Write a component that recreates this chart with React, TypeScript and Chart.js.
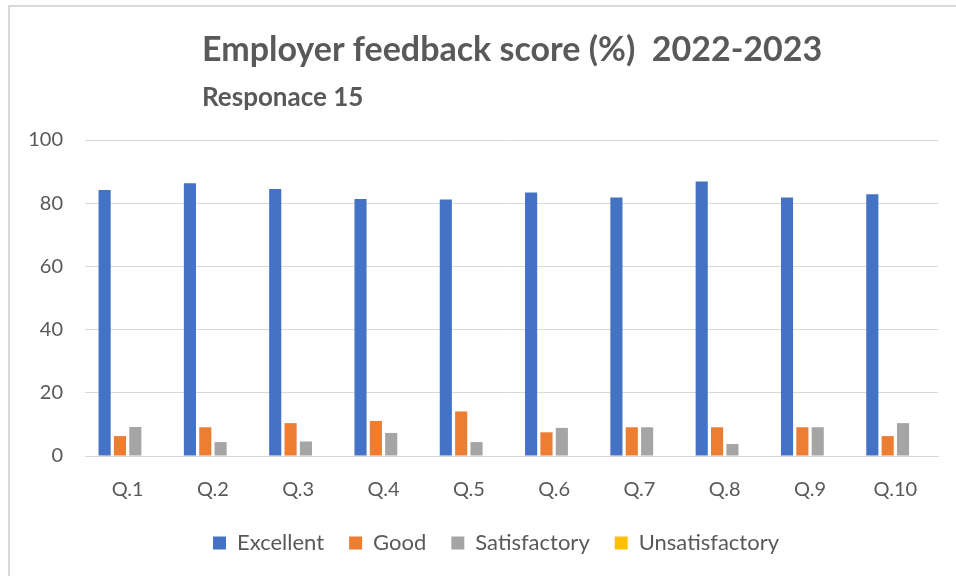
import React, { useEffect, useRef } from "react";
import { Chart, registerables } from "chart.js";

Chart.register(...registerables);

const categories = ["Q.1", "Q.2", "Q.3", "Q.4", "Q.5", "Q.6", "Q.7", "Q.8", "Q.9", "Q.10"];
const excellent = [84.2, 86.3, 84.5, 81.3, 81.2, 83.4, 81.8, 86.9, 81.8, 82.8];
const good = [6.3, 9.1, 10.4, 11.1, 14.1, 7.5, 9.1, 9.1, 9.1, 6.3];
const satisfactory = [9.2, 4.4, 4.6, 7.3, 4.4, 8.9, 9.1, 3.8, 9.1, 10.4];
const unsatisfactory = [0, 0, 0, 0, 0, 0, 0, 0, 0, 0];
const seriesNames = ["Excellent", "Good", "Satisfactory", "Unsatisfactory"];
const seriesColors = ["#4472C4", "#ED7D31", "#A5A5A5", "#FFC000"];
const titleText = "Employer feedback score (%)  2022-2023";
const subtitleText = "Responace 15";
const yTicks = [0, 20, 40, 60, 80, 100];

const FONT = "Lato, 'Noto Sans', sans-serif";
const TEXT = "#595959";

const decorPlugin = {
  id: "decor",
  afterLayout(chart: any) {
    if (chart.legend) {
      chart.legend.left += 22;
      chart.legend.right += 22;
    }
  },
  afterDraw(chart: any) {
    const ctx = chart.ctx;
    ctx.save();
    ctx.strokeStyle = "#d9d9d9";
    ctx.lineWidth = 2;
    ctx.beginPath();
    ctx.moveTo(9, 600);
    ctx.lineTo(9, 6);
    ctx.lineTo(1000, 6);
    ctx.stroke();
    ctx.fillStyle = TEXT;
    ctx.textAlign = "left";
    ctx.textBaseline = "alphabetic";
    ctx.font = `bold 34px ${FONT}`;
    ctx.fillText(titleText, 202, 61);
    ctx.font = `bold 26px ${FONT}`;
    ctx.fillText(subtitleText, 202, 106);
    ctx.restore();
  },
};

export default function App() {
  const ref = useRef<HTMLCanvasElement>(null);
  useEffect(() => {
    if (!ref.current) return;
    const data = [excellent, good, satisfactory, unsatisfactory];
    const chart = new Chart(ref.current, {
      type: "bar",
      data: {
        labels: categories,
        datasets: seriesNames.map((n, i) => ({
          label: n,
          data: data[i],
          backgroundColor: seriesColors[i],
          borderWidth: 0,
          categoryPercentage: 0.72,
          barPercentage: 0.79,
        })),
      },
      options: {
        animation: false,
        responsive: false,
        maintainAspectRatio: false,
        layout: { padding: { left: 10, right: 18, top: 140, bottom: 12 } },
        plugins: {
          title: { display: false },
          tooltip: { enabled: false },
          legend: {
            position: "bottom",
            labels: {
              boxWidth: 13,
              boxHeight: 13,
              padding: 25,
              color: TEXT,
              font: { family: FONT, size: 22 },
            },
          },
        },
        scales: {
          x: {
            grid: { display: false, drawTicks: false },
            border: { display: true, color: "#d9d9d9", width: 1 },
            ticks: { color: TEXT, font: { family: FONT, size: 20 }, padding: 22 },
            afterFit: (s: any) => {
              s.height = 51;
            },
          },
          y: {
            min: 0,
            max: 100,
            afterBuildTicks: (s: any) => {
              s.ticks = yTicks.map((v) => ({ value: v }));
            },
            afterFit: (s: any) => {
              s.width = 75;
            },
            grid: { color: "#d9d9d9", lineWidth: 1, drawTicks: false },
            border: { display: false },
            ticks: { color: TEXT, font: { family: FONT, size: 20 }, padding: 22 },
          },
        },
      },
      plugins: [decorPlugin],
    });
    return () => chart.destroy();
  }, []);
  return (
    <div style={{ position: "absolute", left: 0, top: 0, width: 956, height: 576, background: "#fff" }}>
      <canvas ref={ref} width={956} height={576} style={{ width: 956, height: 576 }} />
    </div>
  );
}
